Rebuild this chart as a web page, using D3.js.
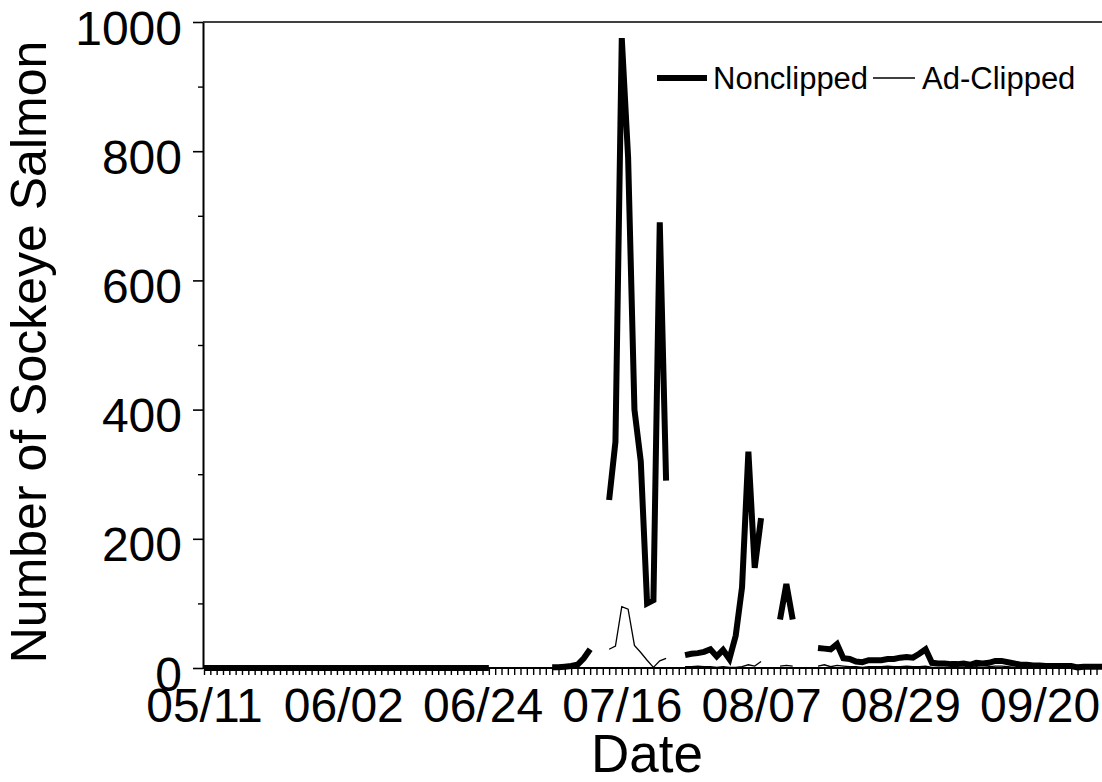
<!DOCTYPE html>
<html>
<head>
<meta charset="utf-8">
<script src="https://cdn.jsdelivr.net/npm/d3@7"></script>
<style>
  body { margin: 0; background: #fff; }
  svg { display: block; font-family: Arial, "Liberation Sans", sans-serif; }
</style>
</head>
<body>
<svg id="chart"></svg>
<script>
// Daily counts starting 05/11, null = no sampling that day
const startDay = '2001/05/11';
const dateLabels = ['05/11', '06/02', '06/24', '07/16', '08/07', '08/29', '09/20'];
const yTicks = [0, 200, 400, 600, 800, 1000];
const yMinorTicks = [100, 300, 500, 700, 900];
const seriesNames = ['Nonclipped', 'Ad-Clipped'];

const nonclipped = [
  0, 0, 0, 0, 0, 0, 0, 0, 0, 0, 0, 0, 0, 0, 0, 0, 0, 0, 0, 0, 0, 0, 0, 0, 0, 0, 0, 0, 0, 0,
  0, 0, 0, 0, 0, 0, 0, 0, 0, 0, 0, 0, 0, 0, 0, 0,
  null, null, null, null, null, null, null, null, null,
  1, 1, 2, 3, 5, 15, 29,
  null, null,
  260, 350, 975, 790, 400, 320, 100, 105, 690, 290,
  null, null,
  20, 22, 23, 25, 29, 18, 28, 14, 50, 125, 335, 155, 232,
  null, null,
  75, 130, 75,
  null, null, null,
  31, 30, 29, 37, 15, 14, 10, 9, 12, 12, 12, 14, 14, 16, 17, 16, 22, 29, 8, 7,
  7, 6, 6, 7, 5, 8, 7, 8, 11, 11, 9, 7, 5, 5, 4, 4, 3, 3, 3, 3,
  3, 1, 2, 2, 2, 2
];

const adClipped = [
  0, 0, 0, 0, 0, 0, 0, 0, 0, 0, 0, 0, 0, 0, 0, 0, 0, 0, 0, 0, 0, 0, 0, 0, 0, 0, 0, 0, 0, 0,
  0, 0, 0, 0, 0, 0, 0, 0, 0, 0, 0, 0, 0, 0, 0, 0,
  null, null, null, null, null, null, null, null, null,
  0, 0, 0, 0, 0, 0, 0,
  null, null,
  29, 34, 95, 91, 35, 24, 12, 1, 11, 15,
  null, null,
  2, 2, 3, 2, 2, 1, 2, 1, 1, 2, 5, 3, 10,
  null, null,
  3, 4, 3,
  null, null, null,
  3, 5, 2, 4, 3, 2, 2, 1, 2, 2, 2, 3, 2, 2, 3, 2, 2, 3, 1, 1,
  1, 1, 1, 1, 1, 2, 1, 2, 3, 3, 2, 1, 1, 1, 1, 1, 1, 1, 1, 1,
  1, 0, 1, 1, 1, 1
];

const W = 1102, H = 782;
const PLOT = { left: 203, top: 22, bottom: 668, right: 1102 };
const DAY_PX = 6.33;
const N_DAYS = nonclipped.length;

const parse = d3.timeParse('%Y/%m/%d');
const start = parse(startDay);
const year = startDay.slice(0, 4);

const svg = d3.select('#chart').attr('width', W).attr('height', H);

const x = d3.scaleTime()
  .domain([start, d3.timeDay.offset(start, N_DAYS)])
  .range([PLOT.left + 1, PLOT.left + 1 + N_DAYS * DAY_PX]);

const y = d3.scaleLinear()
  .domain([0, 1000])
  .range([PLOT.bottom, PLOT.top]);

// Top frame line
svg.append('line')
  .attr('x1', PLOT.left).attr('x2', PLOT.right)
  .attr('y1', PLOT.top).attr('y2', PLOT.top)
  .attr('stroke', '#000').attr('stroke-width', 1.5);

// X axis: a tick every day, labels every 22 days
const xAxis = svg.append('g')
  .attr('transform', `translate(0, ${PLOT.bottom})`)
  .call(d3.axisBottom(x).ticks(d3.timeDay.every(1)).tickSize(7).tickSizeOuter(0).tickFormat(''));
xAxis.select('.domain').attr('d', `M${PLOT.left},0H${PLOT.right}`).attr('stroke-width', 2);
xAxis.selectAll('.tick line').attr('stroke-width', 1.4);

svg.append('g')
  .attr('transform', `translate(0, ${PLOT.bottom})`)
  .call(d3.axisBottom(x)
    .tickValues(dateLabels.map(l => parse(`${year}/${l}`)))
    .tickSize(0)
    .tickPadding(20)
    .tickFormat(d3.timeFormat('%m/%d')))
  .call(g => g.select('.domain').remove())
  .selectAll('text')
  .attr('font-size', 48)
  .attr('fill', '#000');

// Y axis
const yAxis = svg.append('g')
  .attr('transform', `translate(${PLOT.left}, 0)`)
  .call(d3.axisLeft(y).tickValues(yTicks).tickSize(10).tickSizeOuter(0).tickPadding(11).tickFormat(d3.format('d')));
yAxis.select('.domain').attr('stroke-width', 2);
yAxis.selectAll('.tick line').attr('stroke-width', 1.6);
yAxis.selectAll('text').attr('font-size', 48).attr('fill', '#000').attr('dy', '0.46em');

svg.append('g')
  .attr('transform', `translate(${PLOT.left}, 0)`)
  .call(d3.axisLeft(y).tickValues(yMinorTicks).tickSize(5).tickFormat(''))
  .call(g => g.select('.domain').remove())
  .selectAll('.tick line').attr('stroke-width', 1.4);

// Axis titles
svg.append('text')
  .attr('x', 647).attr('y', 772)
  .attr('text-anchor', 'middle')
  .attr('font-size', 53)
  .text('Date');

svg.append('text')
  .attr('transform', 'translate(46, 352) rotate(-90)')
  .attr('text-anchor', 'middle')
  .attr('font-size', 50)
  .text('Number of Sockeye Salmon');

// Lines
const line = d3.line()
  .defined(d => d.v != null)
  .x(d => x(d.date))
  .y(d => y(d.v));

const toPoints = arr => arr.map((v, i) => ({ date: d3.timeDay.offset(start, i), v }));

svg.append('path')
  .datum(toPoints(adClipped))
  .attr('fill', 'none')
  .attr('stroke', '#000')
  .attr('stroke-width', 1.3)
  .attr('d', line);

svg.append('path')
  .datum(toPoints(nonclipped))
  .attr('fill', 'none')
  .attr('stroke', '#000')
  .attr('stroke-width', 6)
  .attr('d', line);

// Legend
const legend = svg.append('g').attr('class', 'legend');
const legendItems = [
  { name: seriesNames[0], x1: 657, x2: 707, tx: 713, width: 6 },
  { name: seriesNames[1], x1: 873, x2: 915, tx: 922, width: 1.3 }
];
legendItems.forEach(item => {
  legend.append('line')
    .attr('x1', item.x1).attr('x2', item.x2)
    .attr('y1', 78).attr('y2', 78)
    .attr('stroke', '#000').attr('stroke-width', item.width);
  legend.append('text')
    .attr('x', item.tx).attr('y', 89)
    .attr('font-size', 31)
    .text(item.name);
});
</script>
</body>
</html>
